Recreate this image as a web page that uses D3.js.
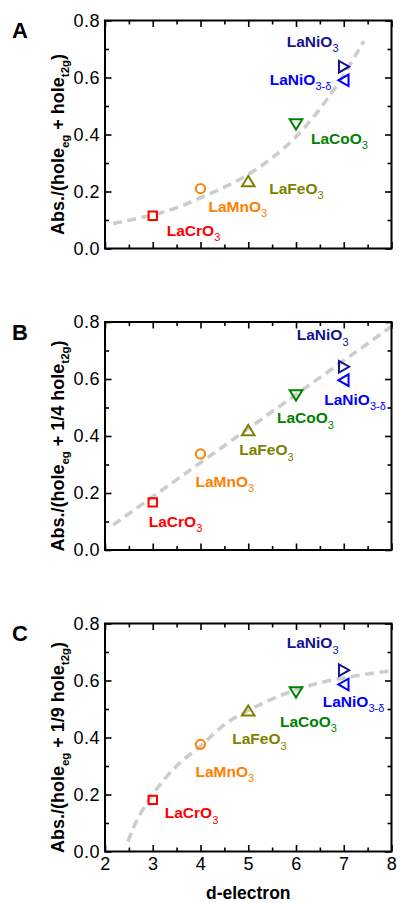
<!DOCTYPE html>
<html><head><meta charset="utf-8">
<script src="https://cdn.jsdelivr.net/npm/d3@7"></script>
<style>
body{margin:0;background:#fff}
svg{display:block;font-family:"Liberation Sans",Arial,Helvetica,sans-serif}
</style></head><body>
<svg id="chart" width="400" height="903"></svg>
<script>
// Perovskites and their d-electron count
const compoundBase = ["LaCrO", "LaMnO", "LaFeO", "LaCoO", "LaNiO", "LaNiO"];
const compoundSub  = ["3", "3", "3", "3", "3", "3-δ"];
const dElectron    = [3, 4, 5, 6, 7, 7];

// Normalised absorption for the three hole weightings
const absHole   = [0.115, 0.210, 0.235, 0.437, 0.638, 0.590];
const absQuart  = [0.167, 0.337, 0.419, 0.544, 0.643, 0.596];
const absNinth  = [0.181, 0.376, 0.493, 0.560, 0.636, 0.586];

// Dashed guide curves (d-electron, value)
const guideHoleD  = [2.17, 2.5, 3.0, 3.5, 4.0, 4.5, 5.0, 5.5, 6.0, 6.5, 7.0, 7.42];
const guideHoleV  = [0.088, 0.099, 0.118, 0.143, 0.178, 0.215, 0.260, 0.318, 0.392, 0.490, 0.610, 0.728];
const guideQuartD = [2.17, 8.0];
const guideQuartV = [0.088, 0.784];
const guideNinthD = [2.48, 2.6, 2.75, 3.0, 3.25, 3.5, 4.0, 4.5, 5.0, 5.5, 6.0, 6.5, 7.0, 7.5, 8.0];
const guideNinthV = [0.035, 0.085, 0.135, 0.200, 0.255, 0.300, 0.370, 0.445, 0.495, 0.535, 0.567, 0.592, 0.609, 0.623, 0.634];

// Axis ticks
const xTicks      = [2, 3, 4, 5, 6, 7, 8];
const xMinorTicks = [2.5, 3.5, 4.5, 5.5, 6.5, 7.5];
const yTicks      = [0.0, 0.2, 0.4, 0.6, 0.8];
const yMinorTicks = [0.1, 0.3, 0.5, 0.7];

const panelLetters = ["A", "B", "C"];
const t2gWeights   = ["", "1/4 ", "1/9 "];
const xTitle = "d-electron";

// ---- styling -------------------------------------------------------------
const colors  = ["#ff0000", "#ff8000", "#808000", "#008000", "#14148f", "#0000ff"];
const symbols = ["square", "circle", "up", "down", "right", "left"];

// label offsets from each marker (px) per panel
const labelOffsets = [
  [[14, 20], [8, 23], [21, 12], [15, 20], [-57, -20], [-74, 4.5]],
  [[-4, 24.5], [-5, 33], [-9, 24.5], [-19, 28.5], [-47, -26.5], [-19.5, 24.5]],
  [[12, 18.5], [-5, 32.5], [-16, 33.5], [-16, 35], [-57, -22], [-21, 22.5]]
];

const panels = [
  {values: absHole,  gd: guideHoleD,  gv: guideHoleV},
  {values: absQuart, gd: guideQuartD, gv: guideQuartV},
  {values: absNinth, gd: guideNinthD, gv: guideNinthV}
];

const left = 105, right = 391.5, plotH = 228;
const tops = [20.5, 322, 623.5];

const svg = d3.select("#chart");
svg.append("rect").attr("width", 400).attr("height", 903).attr("fill", "#fff");

const x = d3.scaleLinear().domain([2, 8]).range([left, right]);

function symbolPath(kind) {
  switch (kind) {
    case "square": return "M-4.2,-4.2H4.2V4.2H-4.2Z";
    case "circle": return null;
    case "up":     return "M-6.3,4.6L6.3,4.6L0,-5.6Z";
    case "down":   return "M-6.3,-4.6L6.3,-4.6L0,5.6Z";
    case "right":  return "M-4.8,-5.8L-4.8,5.8L5.4,0Z";
    case "left":   return "M4.8,-5.8L4.8,5.8L-5.4,0Z";
  }
}

panels.forEach((p, i) => {
  const top = tops[i];
  const y = d3.scaleLinear().domain([0, 0.8]).range([top + plotH, top]);
  const g = svg.append("g");

  // axes: ticks point inward on all four sides
  const styleAxis = sel => {
    sel.select(".domain").remove();
    sel.selectAll(".tick line").attr("stroke", "#000").attr("stroke-width", 1.6);
    sel.selectAll("text").attr("fill", "#000").attr("font-size", 18)
      .attr("font-family", '"Liberation Sans",Arial,sans-serif')
      .style("letter-spacing", "0.5px");
  };
  g.append("g").attr("transform", `translate(${left},0)`)
    .call(d3.axisLeft(y).tickValues(yTicks).tickSize(-6.5).tickPadding(5).tickFormat(d3.format(".1f")))
    .call(styleAxis);
  g.append("g").attr("transform", `translate(${left},0)`)
    .call(d3.axisLeft(y).tickValues(yMinorTicks).tickSize(-4).tickFormat(""))
    .call(styleAxis);
  g.append("g").attr("transform", `translate(${right},0)`)
    .call(d3.axisRight(y).tickValues(yTicks).tickSize(-6.5).tickFormat(""))
    .call(styleAxis);
  g.append("g").attr("transform", `translate(${right},0)`)
    .call(d3.axisRight(y).tickValues(yMinorTicks).tickSize(-4).tickFormat(""))
    .call(styleAxis);
  g.append("g").attr("transform", `translate(0,${top})`)
    .call(d3.axisTop(x).tickValues(xTicks).tickSize(-6.5).tickFormat(""))
    .call(styleAxis);
  g.append("g").attr("transform", `translate(0,${top})`)
    .call(d3.axisTop(x).tickValues(xMinorTicks).tickSize(-4).tickFormat(""))
    .call(styleAxis);
  g.append("g").attr("transform", `translate(0,${top + plotH})`)
    .call(d3.axisBottom(x).tickValues(xTicks).tickSize(-6.5).tickPadding(5.5)
      .tickFormat(i === 2 ? d3.format("d") : ""))
    .call(styleAxis);
  g.append("g").attr("transform", `translate(0,${top + plotH})`)
    .call(d3.axisBottom(x).tickValues(xMinorTicks).tickSize(-4).tickFormat(""))
    .call(styleAxis);

  // guide curve
  const line = d3.line().x(d => x(d[0])).y(d => y(d[1])).curve(d3.curveMonotoneX);
  g.append("path")
    .datum(p.gd.map((d, k) => [d, p.gv[k]]))
    .attr("d", line)
    .attr("fill", "none")
    .attr("stroke", "#cdcdcd")
    .attr("stroke-width", 3.6)
    .attr("stroke-dasharray", "9,5.5");

  // markers
  dElectron.forEach((d, k) => {
    const cx = x(d), cy = y(p.values[k]);
    if (symbols[k] === "circle") {
      g.append("circle").attr("cx", cx).attr("cy", cy).attr("r", 4.6)
        .attr("fill", "none").attr("stroke", colors[k]).attr("stroke-width", 2);
    } else {
      g.append("path").attr("d", symbolPath(symbols[k]))
        .attr("transform", `translate(${cx},${cy})`)
        .attr("fill", "none").attr("stroke", colors[k]).attr("stroke-width", 2)
        .attr("stroke-linejoin", "miter");
    }
    const off = labelOffsets[i][k];
    const t = g.append("text").attr("x", cx + off[0]).attr("y", cy + off[1])
      .attr("fill", colors[k]).attr("font-size", 15.5).attr("font-weight", "bold");
    t.append("tspan").text(compoundBase[k]);
    t.append("tspan").attr("dy", 5.5).attr("font-size", 11).attr("font-weight", "normal")
      .text(compoundSub[k]);
  });

  // frame
  g.append("rect").attr("x", left).attr("y", top).attr("width", right - left).attr("height", plotH)
    .attr("fill", "none").attr("stroke", "#000").attr("stroke-width", 2);

  // y-axis title
  const yt = g.append("text")
    .attr("transform", `translate(64,${top + 124}) rotate(-90)`)
    .attr("text-anchor", "middle").attr("font-size", 18).attr("font-weight", "bold").attr("fill", "#000");
  yt.append("tspan").text("Abs./(hole");
  yt.append("tspan").attr("dy", 5).attr("font-size", 11.5).text("eg");
  yt.append("tspan").attr("dy", -5).text(" + " + t2gWeights[i] + "hole");
  yt.append("tspan").attr("dy", 5).attr("font-size", 11.5).text("t2g");
  yt.append("tspan").attr("dy", -5).text(")");

  // panel letter
  svg.append("text").attr("x", 12).attr("y", top + 17.5)
    .attr("font-size", 22).attr("font-weight", "bold").attr("fill", "#000")
    .text(panelLetters[i]);
});

// x-axis title
svg.append("text").attr("x", (left + right) / 2).attr("y", 898.5)
  .attr("text-anchor", "middle").attr("font-size", 17.5).attr("font-weight", "bold").attr("fill", "#000")
  .text(xTitle);
</script>
</body></html>
